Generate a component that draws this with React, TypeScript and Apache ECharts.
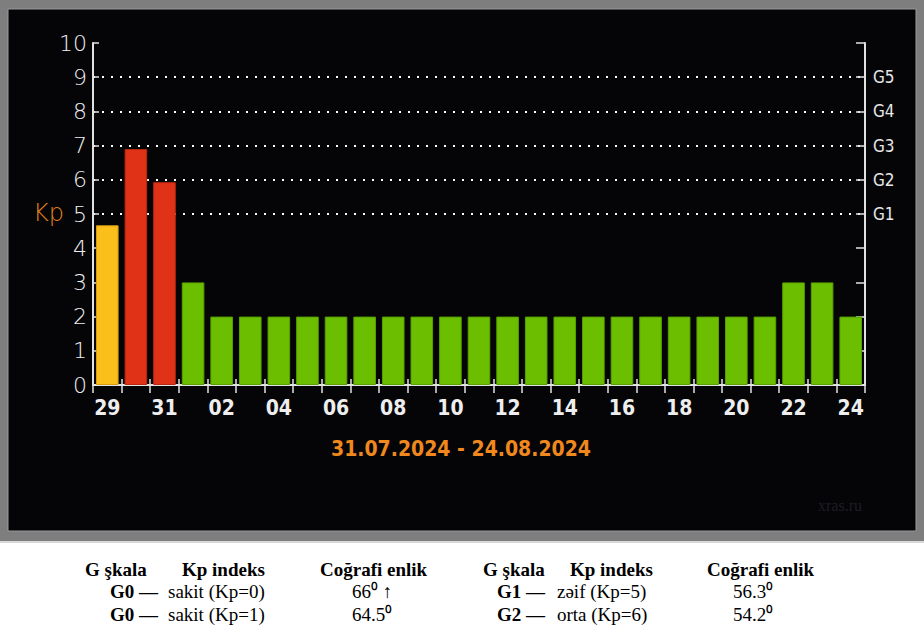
import React, { useEffect, useRef } from "react";
import * as echarts from "echarts";

const days = ["29", "30", "31", "01", "02", "03", "04", "05", "06", "07", "08", "09", "10", "11", "12", "13", "14", "15", "16", "17", "18", "19", "20", "21", "22", "23", "24"];
const kpValues = [4.67, 6.9, 5.93, 3, 2, 2, 2, 2, 2, 2, 2, 2, 2, 2, 2, 2, 2, 2, 2, 2, 2, 2, 2, 2, 3, 3, 2];
const gLabels = ["", "", "", "", "", "G1", "G2", "G3", "G4", "G5", ""];
const dateRange = "31.07.2024 - 24.08.2024";

const headers = ["G şkala", "Kp indeks", "Coğrafi enlik", "G şkala", "Kp indeks", "Coğrafi enlik"];
const rowsLeft = [
  ["G0 —", "sakit (Kp=0)", "66⁰ ↑"],
  ["G0 —", "sakit (Kp=1)", "64.5⁰"],
];
const rowsRight = [
  ["G1 —", "zəif (Kp=5)", "56.3⁰"],
  ["G2 —", "orta (Kp=6)", "54.2⁰"],
];

const GREEN = "#6cbf00";
const YELLOW = "#fbbf1c";
const RED = "#e03216";

function barColor(v: number) {
  if (v >= 5) return RED;
  if (v >= 4) return YELLOW;
  return GREEN;
}
function barBorder(v: number) {
  if (v >= 5) return "#b82810";
  if (v >= 4) return "#d49c10";
  return "#58a000";
}

export default function App() {
  const ref = useRef<HTMLDivElement>(null);
  useEffect(() => {
    if (!ref.current) return;
    const chart = echarts.init(ref.current, null, { renderer: "svg" });
    const axisColor = "#e2e2e2";
    const serif = "'Liberation Serif', 'Times New Roman', serif";
    const cond = "'DejaVu Sans Condensed', 'DejaVu Sans', sans-serif";
    const headerX = [85, 182, 320, 483, 570, 707];
    const colX = [110, 168, 352];
    const colX2 = [497, 557, 733];
    const tableTexts: any[] = [];
    headers.forEach((h, i) => {
      tableTexts.push({
        type: "text",
        x: headerX[i],
        y: 569,
        z: 10,
        style: { text: h, fill: "#000", font: `bold 19px ${serif}`, textVerticalAlign: "middle" },
      });
    });
    const rowY = [591, 614];
    rowsLeft.forEach((r, ri) => {
      r.forEach((t, ci) => {
        tableTexts.push({
          type: "text",
          x: colX[ci],
          y: rowY[ri],
          z: 10,
          style: { text: t, fill: "#000", font: `${ci === 0 ? "bold " : ""}19px ${serif}`, textVerticalAlign: "middle" },
        });
      });
    });
    rowsRight.forEach((r, ri) => {
      r.forEach((t, ci) => {
        tableTexts.push({
          type: "text",
          x: colX2[ci],
          y: rowY[ri],
          z: 10,
          style: { text: t, fill: "#000", font: `${ci === 0 ? "bold " : ""}19px ${serif}`, textVerticalAlign: "middle" },
        });
      });
    });

    const splitColors = ["rgba(0,0,0,0)", "rgba(0,0,0,0)", "rgba(0,0,0,0)", "rgba(0,0,0,0)", "rgba(0,0,0,0)", "#ffffff", "#ffffff", "#ffffff", "#ffffff", "#ffffff", "rgba(0,0,0,0)"];

    chart.setOption({
      animation: false,
      backgroundColor: "#ffffff",
      grid: { left: 93, top: 43, right: 59, bottom: 245, containLabel: false },
      xAxis: [
        {
          type: "category",
          data: days,
          position: "bottom",
          axisLine: { show: true, lineStyle: { color: axisColor, width: 2 } },
          axisTick: { show: true, inside: true, interval: 0, length: 6, lineStyle: { color: axisColor, width: 1.5 } },
          axisLabel: {
            interval: 1,
            color: "#eeeeee",
            fontFamily: cond,
            fontWeight: "bold",
            fontSize: 21,
            margin: 12,
          },
          splitLine: { show: false },
        },
        {
          type: "category",
          data: days,
          position: "top",
          axisLine: { show: true, lineStyle: { color: axisColor, width: 2 } },
          axisTick: { show: true, inside: true, interval: 0, length: 8, lineStyle: { color: axisColor, width: 1.5 } },
          axisLabel: { show: false },
          splitLine: { show: false },
        },
      ],
      yAxis: [
        {
          type: "value",
          min: 0,
          max: 10,
          interval: 1,
          position: "left",
          axisLine: { show: true, lineStyle: { color: axisColor, width: 2 } },
          axisTick: { show: true, inside: true, length: 6, lineStyle: { color: axisColor, width: 1.5 } },
          axisLabel: {
            color: "#f0f0f0",
            fontFamily: "'DejaVu Sans', sans-serif",
            fontWeight: 200,
            fontSize: 22,
            margin: 6,
          },
          splitLine: { show: true, lineStyle: { color: splitColors, width: 2, type: [2, 7] } },
        },
        {
          type: "value",
          min: 0,
          max: 10,
          interval: 1,
          position: "right",
          axisLine: { show: true, lineStyle: { color: axisColor, width: 2 } },
          axisTick: { show: true, inside: true, length: 9, lineStyle: { color: axisColor, width: 1.5 } },
          axisLabel: {
            color: "#e8e8e8",
            fontFamily: cond,
            fontSize: 17,
            margin: 8,
            formatter: (v: number) => gLabels[Math.round(v)] || "",
          },
          splitLine: { show: false },
        },
      ],
      series: [
        {
          type: "bar",
          xAxisIndex: 0,
          yAxisIndex: 0,
          barWidth: "79%",
          data: kpValues.map((v) => ({
            value: v,
            itemStyle: { color: barColor(v), borderColor: barBorder(v), borderWidth: 1 },
          })),
        },
      ],
      graphic: [
        { type: "rect", z: -100, silent: true, shape: { x: 0, y: 0, width: 924, height: 541 }, style: { fill: "#7e7e7e" } },
        { type: "rect", z: -99, silent: true, shape: { x: 8, y: 9, width: 908, height: 522 }, style: { fill: "#050508", stroke: "#9a9a9a", lineWidth: 1 } },
        { type: "rect", z: -99, silent: true, shape: { x: 0, y: 541, width: 924, height: 2 }, style: { fill: "#d8d8d8" } },
        {
          type: "text",
          x: 461,
          y: 449,
          z: 10,
          style: {
            text: dateRange,
            fill: "#f0881e",
            font: `bold 21px ${cond}`,
            textAlign: "center",
            textVerticalAlign: "middle",
          },
        },
        {
          type: "text",
          x: 33,
          y: 213,
          z: 10,
          style: {
            text: "Kp",
            fill: "#e8821e",
            font: "200 24px 'DejaVu Sans', sans-serif",
            textVerticalAlign: "middle",
          },
        },
        {
          type: "text",
          x: 818,
          y: 505,
          z: 10,
          style: { text: "xras.ru", fill: "#1e1e22", font: `16px ${serif}`, textVerticalAlign: "middle" },
        },
        ...tableTexts,
      ],
    });
    return () => chart.dispose();
  }, []);
  return <div ref={ref} style={{ position: "fixed", left: 0, top: 0, width: 924, height: 630 }} />;
}
